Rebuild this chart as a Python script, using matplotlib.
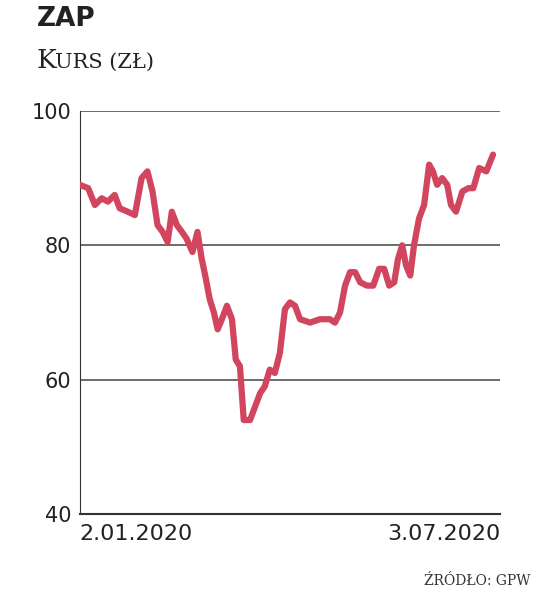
import matplotlib
matplotlib.use("Agg")
import matplotlib.pyplot as plt

# trading-day positions (0..100 scale across the period) and price in zł
days = [0, 2, 3.6, 5.2, 6.7, 8.3, 9.5, 11.4, 13.1, 14.7, 16.1, 17.3, 18.5, 19.7, 20.9, 21.9,
        23.1, 24.3, 25.4, 26.8, 28.0, 29.0, 30.0, 30.9, 31.9, 32.8, 33.8, 35.0, 36.2, 37.1,
        38.1, 39.0, 40.5, 41.7, 42.9, 44.0, 45.2, 46.4, 47.6, 48.8, 50.0, 51.2, 52.4, 54.8,
        57.1, 59.5, 60.7, 61.9, 63.1, 64.3, 65.5, 66.7, 68.3, 69.8, 71.2, 72.4, 73.6, 74.8,
        75.7, 76.7, 77.6, 78.6, 79.5, 80.7, 81.9, 83.1, 84.0, 85.0, 86.2, 87.4, 88.3, 89.5,
        91.0, 92.4, 93.6, 95.0, 96.7, 98.3]
price = [89, 88.5, 86, 87, 86.5, 87.5, 85.5, 85, 84.5, 90, 91, 88, 83, 82, 80.5, 85,
         83, 82, 81, 79, 82, 78, 75, 72, 70, 67.5, 69, 71, 69, 63,
         62, 54, 54, 56, 58, 59, 61.5, 61, 64, 70.5, 71.5, 71, 69, 68.5,
         69, 69, 68.5, 70, 74, 76, 76, 74.5, 74, 74, 76.5, 76.5, 74, 74.5,
         78, 80, 77, 75.5, 80, 84, 86, 92, 91, 89, 90, 89, 86, 85,
         88, 88.5, 88.5, 91.5, 91, 93.5]
yticks = [40, 60, 80, 100]
start_label, end_label = "2.01.2020", "3.07.2020"

fig = plt.figure(figsize=(5.39, 5.93), dpi=100)
ax = fig.add_axes([0.148, 0.133, 0.78, 0.68])
ax.set_xlim(0, 100)
ax.set_ylim(40, 100)
for y in yticks[1:]:
    ax.axhline(y, color="#444444", lw=1.1, zorder=1)
ax.plot(days, price, color="#d2455f", lw=4.5, solid_joinstyle="round",
        solid_capstyle="round", zorder=3)
for s in ["top", "right"]:
    ax.spines[s].set_visible(False)
ax.spines["left"].set_color("#333333")
ax.spines["bottom"].set_color("#333333")
ax.spines["bottom"].set_linewidth(1.5)
ax.set_xticks([])
ax.set_yticks(yticks)
ax.tick_params(axis="y", length=0, labelsize=15, pad=6, labelcolor="#222222")
ax.text(0, -0.025, start_label, transform=ax.transAxes, ha="left", va="top",
        fontsize=16, family="DejaVu Sans Condensed", color="#222222")
ax.text(1, -0.025, end_label, transform=ax.transAxes, ha="right", va="top",
        fontsize=16, family="DejaVu Sans Condensed", color="#222222")
fig.text(0.068, 0.99, "ZAP", ha="left", va="top", fontsize=19, fontweight="bold",
         family="DejaVu Sans", color="#222222")
fig.text(0.068, 0.885, "K", ha="left", va="baseline", fontsize=19,
         family="DejaVu Serif", color="#222222")
fig.text(0.068 + 18 / 539, 0.885, "URS (ZŁ)", ha="left", va="baseline", fontsize=15,
         family="DejaVu Serif", color="#222222")
fig.text(0.985, 0.008, "ŹRÓDŁO: GPW", ha="right", va="bottom", fontsize=10,
         family="DejaVu Serif", color="#333333")
fig.savefig("out.png", dpi=100)
